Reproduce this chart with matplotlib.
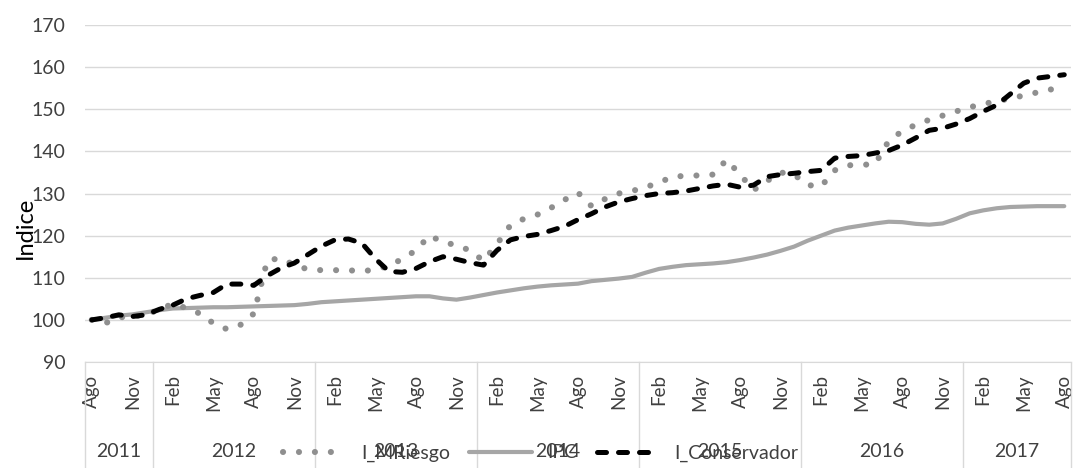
import matplotlib
matplotlib.use("Agg")
import matplotlib.pyplot as plt

plt.rcParams['font.family'] = ['Lato', 'DejaVu Sans']

# meses de Ago 2011 a Ago 2017
meses = ['Ago', 'Sep', 'Oct', 'Nov', 'Dic', 'Ene', 'Feb', 'Mar', 'Abr', 'May', 'Jun', 'Jul'] * 6 + ['Ago']
anios = ['2011', '2012', '2013', '2014', '2015', '2016', '2017']
meses_por_anio = [5, 12, 12, 12, 12, 12, 8]

i_mriesgo = [100, 99.2, 100.6, 100.8, 101.2, 102.5, 103.8, 102.8, 101.5, 99.2,
             97.8, 98.8, 101.5, 114.2, 114.6, 113.0, 112.0, 111.8, 111.8, 111.8,
             111.5, 112.0, 112.8, 114.5, 116.5, 120.0, 118.5, 117.7, 116.5, 114.0,
             118.0, 122.5, 124.0, 125.0, 126.6, 128.5, 130.2, 127.0, 128.7, 130.0,
             130.6, 131.5, 132.6, 134.0, 134.2, 134.3, 134.5, 138.0, 134.5, 130.8,
             133.0, 135.0, 134.5, 132.0, 131.7, 135.5, 136.7, 136.8, 137.0, 142.5,
             144.8, 146.3, 147.5, 148.5, 149.5, 150.5, 151.2, 152.0, 152.5, 153.3,
             154.0, 154.7, 155.5]

ipc = [100, 100.5, 101.0, 101.3, 101.8, 102.3, 102.7, 102.8, 102.9, 103.0,
       103.0, 103.1, 103.2, 103.3, 103.4, 103.5, 103.8, 104.2, 104.4, 104.6,
       104.8, 105.0, 105.2, 105.4, 105.6, 105.6, 105.1, 104.8, 105.3, 105.9,
       106.5, 107.0, 107.5, 107.9, 108.2, 108.4, 108.6, 109.2, 109.5, 109.8,
       110.2, 111.2, 112.1, 112.6, 113.0, 113.2, 113.4, 113.7, 114.2, 114.8,
       115.5, 116.4, 117.4, 118.8, 120.0, 121.2, 121.9, 122.4, 122.9, 123.3,
       123.2, 122.8, 122.6, 122.9, 124.0, 125.3, 126.0, 126.5, 126.8, 126.9,
       127.0, 127.0, 127.0]

i_conservador = [100, 100.5, 101.2, 100.8, 101.2, 102.5, 103.5, 105.0, 105.8, 106.5,
                 108.5, 108.5, 108.2, 110.5, 112.3, 113.5, 115.5, 117.5, 119.0, 119.2,
                 118.2, 114.5, 111.5, 111.3, 112.2, 113.8, 115.0, 114.4, 113.6, 113.0,
                 116.5, 119.0, 119.8, 120.3, 121.2, 122.2, 123.8, 125.2, 126.8, 128.0,
                 128.8, 129.5, 130.0, 130.2, 130.6, 131.2, 131.8, 132.2, 131.5, 132.0,
                 134.0, 134.5, 134.8, 135.2, 135.5, 138.4, 138.8, 139.0, 139.6, 140.2,
                 141.5, 143.2, 145.0, 145.5, 146.5, 147.8, 149.5, 151.0, 153.6, 156.2,
                 157.4, 157.8, 158.2]

x = list(range(len(meses)))
texto = '#404040'
gris_linea = '#d9d9d9'

fig = plt.figure(figsize=(10.75, 4.68), dpi=100)
ax = fig.add_axes([0.0791, 0.2265, 0.9172, 0.720])

ax.plot(x, ipc, color='#a6a6a6', lw=3.0, solid_capstyle='round', label='IPC', zorder=3)
ax.plot(x, i_mriesgo, color='#8f8f8f', lw=4.4, linestyle=(0, (0.01, 2.6)),
        dash_capstyle='round', label='I_MRiesgo', zorder=4)
ax.plot(x, i_conservador, color='black', lw=3.6, linestyle=(0, (1.8, 2.4)),
        dash_capstyle='round', label='I_Conservador', zorder=5)

ax.set_xlim(-0.5, len(meses) - 0.5)
ax.set_ylim(90, 170)
ax.set_yticks(range(90, 171, 10))
ax.grid(axis='y', color=gris_linea, lw=1)
ax.set_axisbelow(True)
for s in ['top', 'right', 'left']:
    ax.spines[s].set_visible(False)
ax.spines['bottom'].set_color(gris_linea)

ax.set_xticks(x[::3])
ax.set_xticklabels(meses[::3], rotation=90)
ax.tick_params(axis='x', length=0, pad=9, labelsize=13.5, labelcolor=texto)
ax.tick_params(axis='y', length=0, pad=14, labelsize=14, labelcolor=texto)

# etiquetas de año y separadores
trans = ax.get_xaxis_transform()
inicio = 0
ax.plot([-0.5, -0.5], [0, -0.32], transform=trans, color=gris_linea, lw=1, clip_on=False)
for anio, n in zip(anios, meses_por_anio):
    centro = inicio + (n - 1) / 2
    ax.text(centro, -0.265, anio, transform=trans, ha='center', va='center',
            fontsize=14, color=texto)
    fin = inicio + n - 0.5
    ax.plot([fin, fin], [0, -0.32], transform=trans, color=gris_linea, lw=1, clip_on=False)
    inicio += n

fig.text(25 / 1075, 1 - 228 / 468, 'Indice', rotation=90, ha='center', va='center',
         fontsize=17, color='black')

handles, labels = ax.get_legend_handles_labels()
orden = [1, 0, 2]
fig.legend([handles[k] for k in orden], [labels[k] for k in orden],
           loc='center', bbox_to_anchor=(0.503, 0.032), ncol=3, frameon=False,
           fontsize=14, handlelength=3.2, handletextpad=0.8, columnspacing=1.0,
           labelcolor=texto)

fig.savefig('out.png', dpi=100)
